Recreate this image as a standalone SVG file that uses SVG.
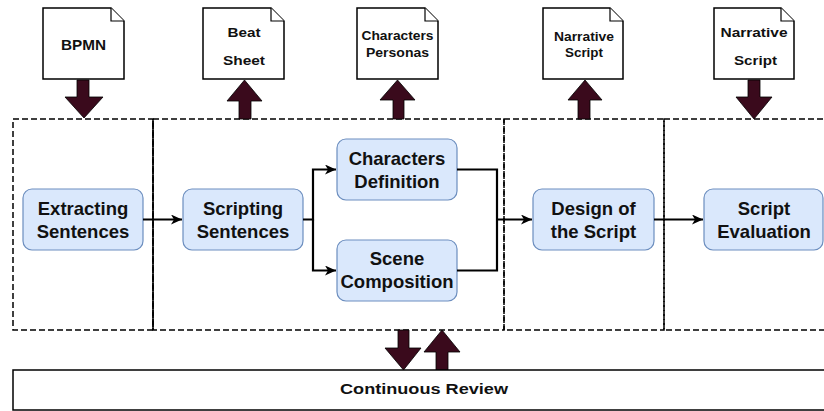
<svg xmlns="http://www.w3.org/2000/svg" width="824" height="411" viewBox="0 0 824 411">
<style>
.doc{fill:#fff;stroke:#000;stroke-width:1.5}
.fold{fill:#fff;stroke:#000;stroke-width:1.2}
.lane{fill:none;stroke:#000;stroke-width:1.5;stroke-dasharray:6 3}
.node{fill:#dae8fc;stroke:#6c8ebf;stroke-width:1.2}
.blk{fill:#3a0a1c;stroke:#000;stroke-width:0.8}
.con{fill:none;stroke:#000;stroke-width:2.2}
.t{font-family:"Liberation Sans",Arial,sans-serif;font-weight:bold;fill:#111;text-anchor:middle}
.nt{font-size:18.5px}
</style>
<defs>
<marker id="ah" markerUnits="userSpaceOnUse" markerWidth="12" markerHeight="12" refX="11" refY="5" orient="auto">
<path d="M0,0 L11,5 L0,10 L3,5 Z" fill="#000"/>
</marker>
</defs>
<g id="lanes">
<rect class="lane" x="13" y="119" width="140" height="211"/>
<rect class="lane" x="153" y="119" width="351" height="211"/>
<rect class="lane" x="504" y="119" width="160" height="211"/>
<rect class="lane" x="664" y="119" width="164" height="211"/>
<line x1="153" y1="119" x2="153" y2="330" stroke="#000" stroke-width="1.5"/>
</g>
<g id="doc-bpmn">
<path class="doc" d="M43,8 H111 L124,21 V79 H43 Z"/><path class="fold" d="M111,8 V21 H124"/>
<text class="t" x="83.5" y="50" font-size="14" textLength="45" lengthAdjust="spacingAndGlyphs">BPMN</text>
</g>
<g id="doc-beat">
<path class="doc" d="M203,8 H271 L284,21 V79 H203 Z"/><path class="fold" d="M271,8 V21 H284"/>
<text class="t" x="244" y="37" font-size="13" textLength="33" lengthAdjust="spacingAndGlyphs">Beat</text>
<text class="t" x="244" y="65" font-size="13" textLength="42" lengthAdjust="spacingAndGlyphs">Sheet</text>
</g>
<g id="doc-characters">
<path class="doc" d="M357,8 H425 L438,21 V79 H357 Z"/><path class="fold" d="M425,8 V21 H438"/>
<text class="t" x="397.5" y="40" font-size="12" textLength="72" lengthAdjust="spacingAndGlyphs">Characters</text>
<text class="t" x="397.5" y="57" font-size="12" textLength="63" lengthAdjust="spacingAndGlyphs">Personas</text>
</g>
<g id="doc-narrative1">
<path class="doc" d="M543,8 H610 L623,21 V79 H543 Z"/><path class="fold" d="M610,8 V21 H623"/>
<text class="t" x="584" y="41" font-size="12" textLength="60" lengthAdjust="spacingAndGlyphs">Narrative</text>
<text class="t" x="584" y="57" font-size="12" textLength="38" lengthAdjust="spacingAndGlyphs">Script</text>
</g>
<g id="doc-narrative2">
<path class="doc" d="M714,8 H781 L794,21 V79 H714 Z"/><path class="fold" d="M781,8 V21 H794"/>
<text class="t" x="754" y="37" font-size="13.5" textLength="67" lengthAdjust="spacingAndGlyphs">Narrative</text>
<text class="t" x="755.5" y="65" font-size="13.5" textLength="43" lengthAdjust="spacingAndGlyphs">Script</text>
</g>
<g id="block-arrows">
<path class="blk" d="M77,80 H89 V97 H103 L84,118 L65,97 H77 Z"/>
<path class="blk" d="M239,119 V101 H227 L244.5,80 L262,101 H251 V119 Z"/>
<path class="blk" d="M393,119 V100 H380 L397.5,80 L415,100 H404 V119 Z"/>
<path class="blk" d="M578,119 V100 H568 L585,80 L602,100 H590 V119 Z"/>
<path class="blk" d="M748,80 H760 V97 H772 L754,119 L736,97 H748 Z"/>
<path class="blk" d="M398,330 H409 V348 H421 L403.5,370 L385,348 H398 Z"/>
<path class="blk" d="M436,370 V352 H424 L442,330 L460,352 H448 V370 Z"/>
</g>
<g id="n-extracting">
<rect class="node" x="23" y="189" width="120" height="61" rx="9"/>
<text class="t nt" x="83" y="214.5">Extracting</text>
<text class="t nt" x="83" y="237.5">Sentences</text>
</g>
<g id="n-scripting">
<rect class="node" x="183" y="189" width="120" height="61" rx="9"/>
<text class="t nt" x="243" y="214.5">Scripting</text>
<text class="t nt" x="243" y="237.5">Sentences</text>
</g>
<g id="n-chardef">
<rect class="node" x="337" y="139" width="120" height="61" rx="9"/>
<text class="t nt" x="397" y="164.5">Characters</text>
<text class="t nt" x="397" y="187.5">Definition</text>
</g>
<g id="n-scene">
<rect class="node" x="337" y="240" width="120" height="61" rx="9"/>
<text class="t nt" x="397" y="264.5">Scene</text>
<text class="t nt" x="397" y="287.5">Composition</text>
</g>
<g id="n-design">
<rect class="node" x="533" y="189" width="121" height="61" rx="9"/>
<text class="t nt" x="593.5" y="214.5">Design of</text>
<text class="t nt" x="593.5" y="237.5">the Script</text>
</g>
<g id="n-eval">
<rect class="node" x="704" y="189" width="119" height="61" rx="9"/>
<text class="t nt" x="764" y="214.5">Script</text>
<text class="t nt" x="764" y="237.5">Evaluation</text>
</g>
<g id="connectors">
<path class="con" d="M143,219.5 H182" marker-end="url(#ah)"/>
<path class="con" d="M303,219.5 H313 V169.5 H336" marker-end="url(#ah)"/>
<path class="con" d="M313,219.5 V270.5 H336" marker-end="url(#ah)"/>
<path class="con" d="M457,169.5 H497 V270.5 H457"/>
<path class="con" d="M497,219.5 H532" marker-end="url(#ah)"/>
<path class="con" d="M654,219.5 H703" marker-end="url(#ah)"/>
</g>
<g id="continuous-review">
<rect x="13" y="370" width="820" height="40" fill="#fff" stroke="#000" stroke-width="1.5"/>
<text class="t" x="424" y="394" font-size="14" textLength="168" lengthAdjust="spacingAndGlyphs">Continuous Review</text>
</g>
</svg>
